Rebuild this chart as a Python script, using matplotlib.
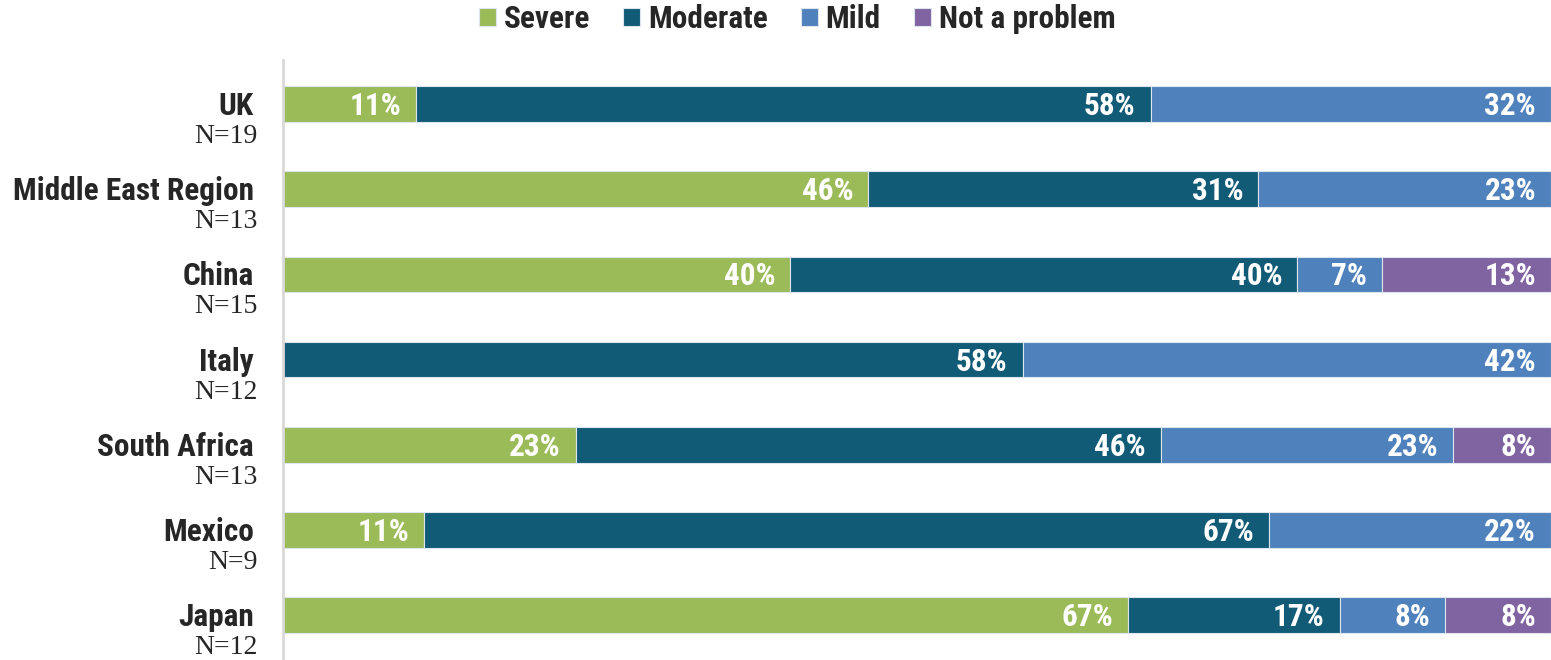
import matplotlib.pyplot as plt
from matplotlib import transforms

countries = ["UK", "Middle East Region", "China", "Italy", "South Africa", "Mexico", "Japan"]
sample_sizes = [19, 13, 15, 12, 13, 9, 12]
categories = ["Severe", "Moderate", "Mild", "Not a problem"]

# respondent counts per rating, same order as categories
severe = [2, 6, 6, 0, 3, 1, 8]
moderate = [11, 4, 6, 7, 6, 6, 2]
mild = [6, 3, 1, 5, 3, 2, 1]
not_a_problem = [0, 0, 2, 0, 1, 0, 1]

colors = ["#9BBB59", "#125B76", "#4F81BD", "#8064A2"]

SANS = ["Roboto Condensed", "PT Sans Narrow", "Liberation Sans", "DejaVu Sans"]
SERIF = ["Liberation Serif", "DejaVu Serif"]

fig = plt.figure(figsize=(15.51, 6.6), dpi=100)
ax = fig.add_axes([283 / 1551, 0.0, 1 - 283 / 1551, 600 / 660])


def shifted(dx, dy):
    return transforms.offset_copy(ax.transData, fig=fig, x=dx, y=dy, units="dots")


series = [severe, moderate, mild, not_a_problem]
ypos = list(range(len(countries)))
left = [0.0] * len(countries)
handles = []
for name, counts, color in zip(categories, series, colors):
    pct = [c / n * 100 for c, n in zip(counts, sample_sizes)]
    bars = ax.barh(ypos, pct, left=left, height=0.42, color=color,
                   edgecolor="#dde5ee", linewidth=0.8, label=name)
    handles.append(bars)
    for y, p, l in zip(ypos, pct, left):
        if p <= 0:
            continue
        ax.text(l + p, y, f"{p:.0f}%", transform=shifted(-15, -11), ha="right",
                va="baseline", color="white", fontsize=22.5, fontweight="bold", family=SANS)
    left = [l + p for l, p in zip(left, pct)]

ax.set_xlim(0, 100)
ax.set_ylim(6.53, -0.52)
ax.set_xticks([])
ax.set_yticks([])
for side in ["top", "right", "bottom"]:
    ax.spines[side].set_visible(False)
ax.spines["left"].set_color("#d9d9d9")
ax.spines["left"].set_linewidth(2)

# country names with sample size underneath
for y, name, n in zip(ypos, countries, sample_sizes):
    ax.text(0, y, name, transform=shifted(-29, -11), ha="right", va="baseline",
            fontsize=22.5, fontweight="bold", color="#262626", family=SANS)
    ax.text(0, y, f"N={n}", transform=shifted(-25, -39), ha="right", va="baseline",
            fontsize=20, color="#262626", family=SERIF)

fig.legend(handles=handles, labels=categories, loc="center", bbox_to_anchor=(0.514, 0.971),
           ncol=4, frameon=False, handlelength=0.55, handleheight=0.55, handletextpad=0.25,
           columnspacing=1.05, prop={"family": SANS, "weight": "bold", "size": 22.5})
for t in fig.legends[0].get_texts():
    t.set_color("#262626")

fig.savefig("out.png", dpi=100)
